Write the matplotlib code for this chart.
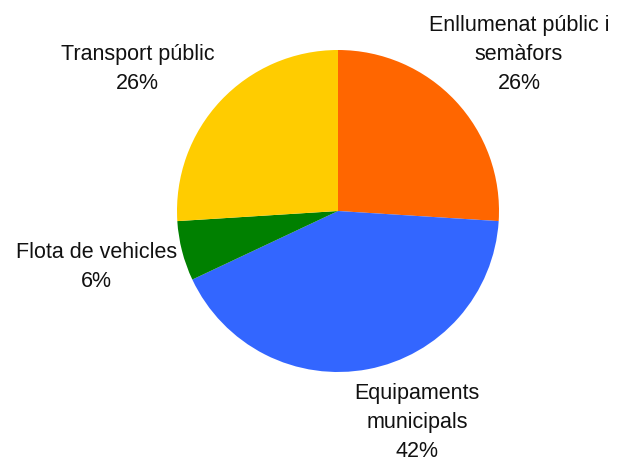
import matplotlib.pyplot as plt

plt.rcParams['font.family'] = ['Liberation Sans', 'DejaVu Sans']

# energy consumption share by sector
labels = ['Enllumenat públic i\nsemàfors', 'Equipaments\nmunicipals',
          'Flota de vehicles', 'Transport públic']
shares = [26, 42, 6, 26]
colors = ['#ff6600', '#3366ff', '#008000', '#ffcc00']

# label centres, in units of the pie radius
label_pos = [(1.124, 0.98), (0.49, -1.31), (-1.50, -0.34), (-1.245, 0.89)]

fig = plt.figure(figsize=(6.28, 4.64), dpi=100)
ax = fig.add_axes([0, 0, 1, 1])

ax.pie(shares, colors=colors, startangle=90, counterclock=False,
       radius=1.0, center=(0, 0), frame=False,
       wedgeprops=dict(linewidth=0))

for lab, val, (x, y) in zip(labels, shares, label_pos):
    ax.text(x, y, '%s\n%d%%' % (lab, val), ha='center', va='center',
            fontsize=15.5, linespacing=1.5, color='#111111')

ax.set_xlim(-338 / 161, 290 / 161)
ax.set_ylim(-252 / 161, 212 / 161)
ax.set_aspect('auto')
ax.axis('off')

fig.savefig('out.png', dpi=100)
